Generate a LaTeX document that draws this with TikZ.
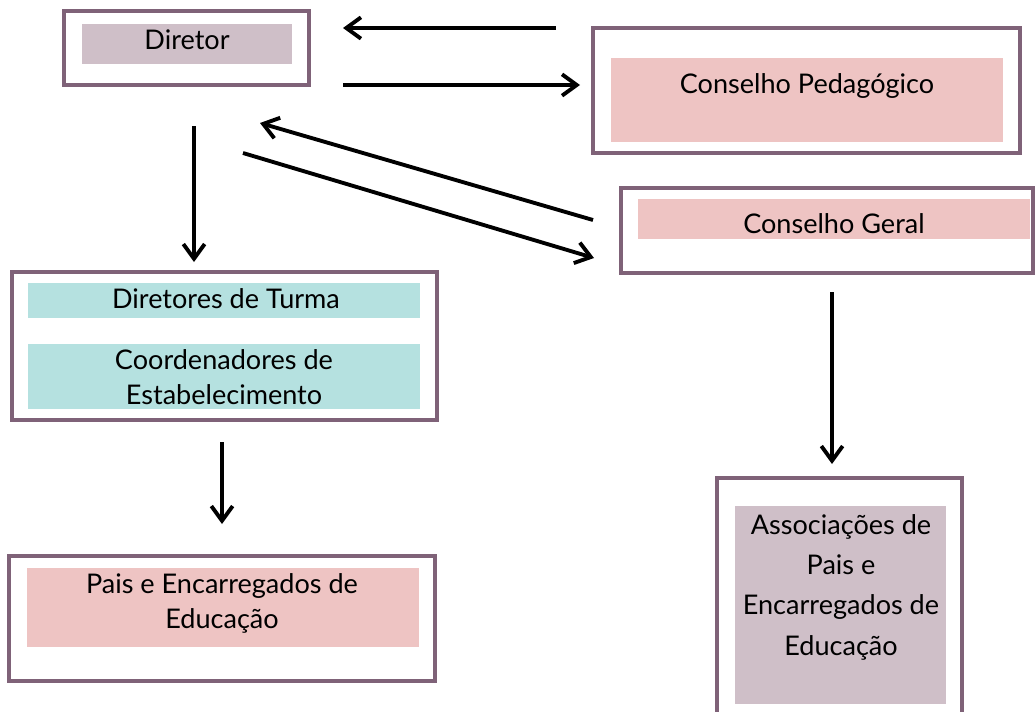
\documentclass[tikz,border=0pt]{standalone}
\usepackage{fontspec}
\setmainfont{Lato}
\usetikzlibrary{arrows.meta,fit}
\definecolor{framec}{HTML}{7F6278}
\definecolor{mauvefill}{HTML}{CFBFC8}
\definecolor{pinkfill}{HTML}{EEC4C3}
\definecolor{cyanfill}{HTML}{B5E1E0}
\begin{document}
\begin{tikzpicture}[x=0.75pt,y=-0.75pt,
  framebox/.style={draw=framec,line width=2.6pt,inner sep=0pt,fit={#1}},
  fillbox/.style={inner sep=0pt,fit={#1}},
  lbl/.style={font=\fontsize{20.3}{24}\selectfont,inner sep=0pt,anchor=base},
  arr/.style={line width=2.9pt,-{Straight Barb[length=11pt,width=16pt,line width=2.9pt]}}]
\useasboundingbox (0,0) rectangle (1035,711);
% frames
\node[framebox={(64,11) (309,85)}] (dirF) {};
\node[framebox={(593,28) (1020,153)}] (cpF) {};
\node[framebox={(621,188) (1033,273)}] (cgF) {};
\node[framebox={(12,272) (437,420)}] (dtF) {};
\node[framebox={(9,556) (435,681)}] (peF) {};
\node[framebox={(717,478) (962,730)}] (apF) {};
% fills
\node[fillbox={(82,24) (292,64)},fill=mauvefill] (dirB) {};
\node[fillbox={(611,58) (1003,142)},fill=pinkfill] (cpB) {};
\node[fillbox={(638,199) (1030,239)},fill=pinkfill] (cgB) {};
\node[fillbox={(28,283) (420,318)},fill=cyanfill] (dtB) {};
\node[fillbox={(28,344) (420,409)},fill=cyanfill] (coB) {};
\node[fillbox={(27,568) (419,647)},fill=pinkfill] (peB) {};
\node[fillbox={(735,506) (946,704)},fill=mauvefill] (apB) {};
% texts
\node[lbl] (dirT) at (187,49) {Diretor};
\node[lbl] (cpT) at (807,93) {Conselho Pedagógico};
\node[lbl] (cgT) at (834,233) {Conselho Geral};
\node[lbl] (dtT) at (226,308) {Diretores de Turma};
\node[lbl] (coT1) at (224,369) {Coordenadores de};
\node[lbl] (coT2) at (224,404) {Estabelecimento};
\node[lbl] (peT1) at (222,593) {Pais e Encarregados de};
\node[lbl] (peT2) at (222,628) {Educação};
\node[lbl] (apT1) at (841,534) {Associações de};
\node[lbl] (apT2) at (841,574) {Pais e};
\node[lbl] (apT3) at (841,614) {Encarregados de};
\node[lbl] (apT4) at (841,655) {Educação};
% connector end points
\coordinate (a1s) at (556,28);  \coordinate (a1e) at (343,28);
\coordinate (a2s) at (343,85);  \coordinate (a2e) at (580,85);
\coordinate (a3s) at (593,220); \coordinate (a3e) at (260,123);
\coordinate (a4s) at (243,153); \coordinate (a4e) at (594,258);
\coordinate (a5s) at (194,126); \coordinate (a5e) at (194,262);
\coordinate (a6s) at (222,442); \coordinate (a6e) at (222,524);
\coordinate (a7s) at (832,292); \coordinate (a7e) at (832,464);
\draw[arr] (a1s) -- (a1e);
\draw[arr] (a2s) -- (a2e);
\draw[arr] (a3s) -- (a3e);
\draw[arr] (a4s) -- (a4e);
\draw[arr] (a5s) -- (a5e);
\draw[arr] (a6s) -- (a6e);
\draw[arr] (a7s) -- (a7e);
\end{tikzpicture}
\end{document}
